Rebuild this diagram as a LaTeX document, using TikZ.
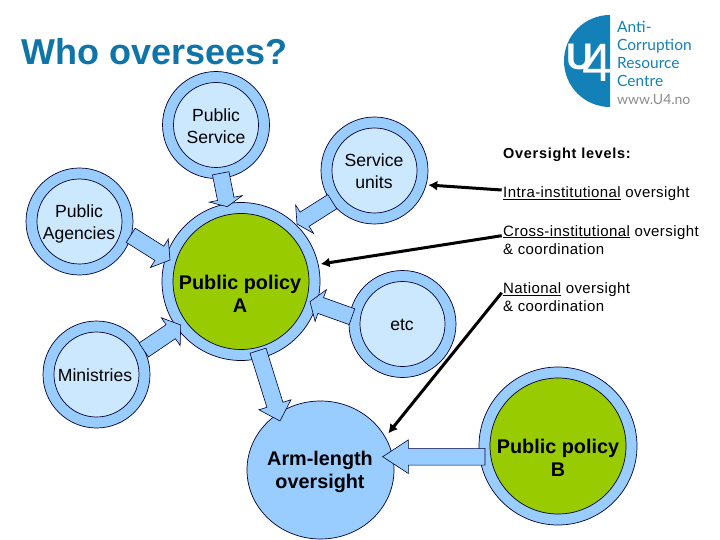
\documentclass[tikz,border=0pt]{standalone}
\usepackage{fontspec}
\setmainfont{Liberation Sans}
\newfontfamily\logofont{Lato}
\usetikzlibrary{calc,arrows.meta,shapes.geometric}
\definecolor{ringblue}{HTML}{99CCFF}
\definecolor{paleblue}{HTML}{CCE8FF}
\definecolor{policygreen}{HTML}{99CC00}
\definecolor{titleblue}{HTML}{0F75A8}
\definecolor{logoblue}{HTML}{1380B8}
\tikzset{
  ring/.style={circle,draw=black!80!blue,line width=0.7pt,fill=ringblue,minimum size=#1,inner sep=0pt},
  core/.style={circle,draw=black!80!blue,line width=0.7pt,minimum size=#1,inner sep=0pt},
  blockarrow/.style={draw=black!80!blue,line width=0.6pt,fill=ringblue,line join=miter},
  overarrow/.style={line width=3pt,black,-{Latex[length=9pt,width=10pt]}},
  lbl/.style={font=\fontsize{17.6}{22}\selectfont,align=center,inner sep=0pt},
  blbl/.style={font=\fontsize{19.8}{23.5}\selectfont\bfseries,align=center,inner sep=0pt},
  side/.style={font=\fontsize{15}{18}\selectfont\addfontfeature{LetterSpace=2.8},align=left,inner sep=0pt,anchor=north west},
  logotxt/.style={font=\logofont\fontsize{15.5}{18}\selectfont,text=logoblue,anchor=base west,inner sep=0pt}
}
\newcommand{\bluearrow}[3]{%
  \coordinate (hb) at ($(#2)!#3pt!(#1)$);
  \draw[blockarrow] ($(#1)!8.4pt!90:(#2)$) -- ($(hb)!8.4pt!-90:(#1)$) -- ($(hb)!16.8pt!-90:(#1)$) -- (#2)
    -- ($(hb)!16.8pt!90:(#1)$) -- ($(hb)!8.4pt!90:(#1)$) -- ($(#1)!8.4pt!-90:(#2)$) -- cycle;}
\begin{document}
\begin{tikzpicture}[x=1pt,y=-1pt]
\useasboundingbox (0,0) rectangle (720,540);
\fill[white] (0,0) rectangle (720,540);
% title
\node[anchor=base west,inner sep=0pt,text=titleblue,font=\fontsize{36}{40}\selectfont\bfseries] (title) at (21,65) {Who oversees?};
% logo
\fill[logoblue] (610,15) arc[start angle=-90,end angle=-270,radius=46] -- cycle;
\node[anchor=base,inner sep=0pt,text=white,font=\fontsize{37}{38}\selectfont\bfseries] (logou) at (580,70) {U};
\node[anchor=base,inner sep=0pt,text=white,font=\fontsize{54}{54}\selectfont] (logofour) at (598,82) {4};
\node[logotxt] (l1) at (617,33) {Anti-};
\node[logotxt] (l2) at (617,51) {Corruption};
\node[logotxt] (l3) at (617,69) {Resource};
\node[logotxt] (l4) at (617,87) {Centre};
\node[logotxt,text=black!45,font=\logofont\fontsize{14}{16}\selectfont] (l5) at (617,105) {www.U4.no};
% circles
\node[ring=107pt] (ps) at (216,125) {};       \node[core=85pt,fill=paleblue] (psi) at (216,125) {};
\node[ring=107pt] (su) at (374.5,170.5) {};   \node[core=85pt,fill=paleblue] (sui) at (374.5,170.5) {};
\node[ring=107pt] (ag) at (79.5,221.5) {};    \node[core=85pt,fill=paleblue] (agi) at (79.5,221.5) {};
\node[ring=107pt] (mi) at (96.5,374.5) {};    \node[core=85pt,fill=paleblue] (mii) at (96.5,374.5) {};
\node[ring=107pt] (et) at (402.5,324) {};     \node[core=85pt,fill=paleblue] (eti) at (402.5,324) {};
\node[ring=158pt] (pa) at (241,281.5) {};     \node[core=136pt,fill=policygreen] (pai) at (241,281.5) {};
\node[ring=158pt] (pb) at (558,446) {};       \node[core=136pt,fill=policygreen] (pbi) at (558,446) {};
\node[ellipse,draw=black!80!blue,line width=0.7pt,fill=ringblue,minimum width=147pt,minimum height=138pt,inner sep=0pt] (arm) at (320.5,470) {};
% block arrows
\coordinate (a1s) at (220.7,173.3); \coordinate (a1t) at (227.3,206.7);
\coordinate (a2s) at (332.3,201.7); \coordinate (a2t) at (297,224);
\coordinate (a3s) at (352,316.7);   \coordinate (a3t) at (310,301.7);
\coordinate (a4s) at (130.7,235.3); \coordinate (a4t) at (170,260);
\coordinate (a5s) at (143.7,350);   \coordinate (a5t) at (180.7,325);
\coordinate (a6s) at (258,350.7);   \coordinate (a6t) at (280,421);
\coordinate (a7s) at (485,456.7);   \coordinate (a7t) at (382.7,456.7);
\bluearrow{a1s}{a1t}{8}
\bluearrow{a2s}{a2t}{9}
\bluearrow{a3s}{a3t}{11.4}
\bluearrow{a4s}{a4t}{12.6}
\bluearrow{a5s}{a5t}{12}
\bluearrow{a6s}{a6t}{17}
\bluearrow{a7s}{a7t}{25.6}
% circle labels
\node[lbl] (tps) at (216,126) {Public\\Service};
\node[lbl] (tsu) at (374,171.5) {Service\\units};
\node[lbl] (tag) at (79,223.5) {Public\\Agencies};
\node[lbl] (tmi) at (95,375) {Ministries};
\node[lbl] (tet) at (402,325) {etc};
\node[blbl] (tpa) at (240,294) {Public policy\\A};
\node[blbl] (tarm) at (320,472) {Arm-length\\oversight};
\node[blbl] (tpb) at (558,458) {Public policy\\B};
% side text
\node[anchor=base west,inner sep=0pt,font=\fontsize{14.5}{16}\selectfont\bfseries\addfontfeature{LetterSpace=4.9}] (head) at (503,159) {Oversight levels:};
\node[anchor=base west,inner sep=0pt,font=\fontsize{15}{18}\selectfont\addfontfeature{LetterSpace=2.8}] (intra) at (503,198) {\underline{Intra-institutional} oversight};
\node[side] (cross) at (503,225) {\underline{Cross-institutional} oversight\\\& coordination};
\node[side] (nat) at (503,282.5) {\underline{National} oversight\\\& coordination};
% oversight arrows
\coordinate (ot1) at (428.3,185);
\coordinate (ot2) at (320.7,264);
\coordinate (ot3) at (388.3,433.3);
\coordinate (os1) at (501.7,190);
\coordinate (os2) at (501.7,235.7);
\coordinate (os3) at (501.7,292.7);
\draw[overarrow] (os1) -- (ot1);
\draw[overarrow] (os2) -- (ot2);
\draw[overarrow] (os3) -- (ot3);
\end{tikzpicture}
\end{document}
